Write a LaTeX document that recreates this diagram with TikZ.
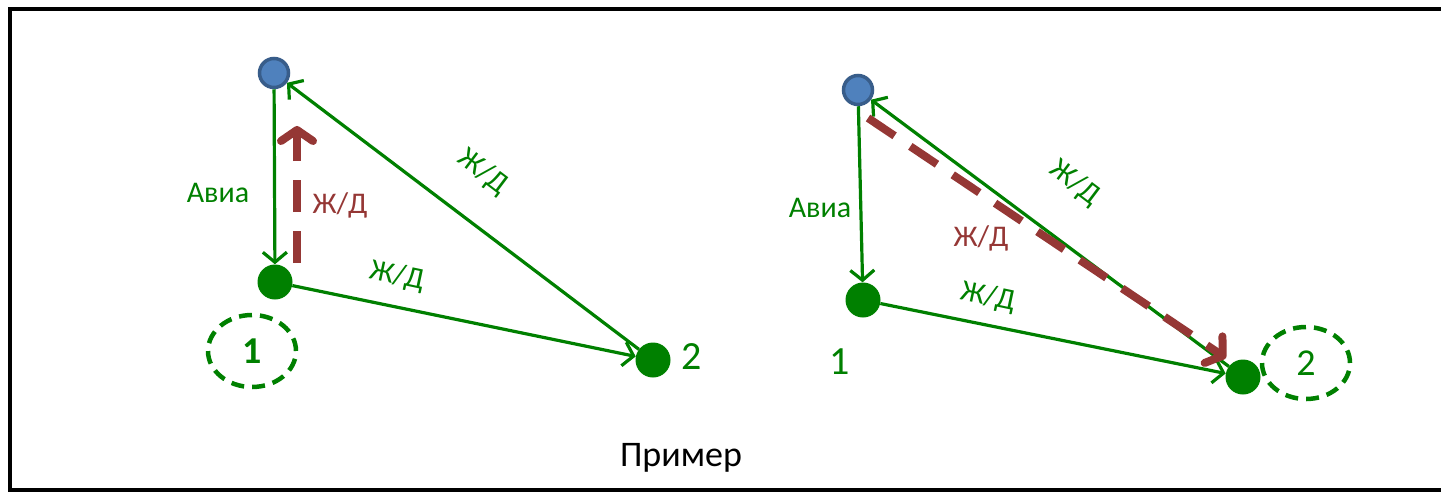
\documentclass[tikz,border=0pt]{standalone}
\usepackage{fontspec}
\setmainfont{Carlito}
\usetikzlibrary{arrows.meta,shapes.geometric}
\definecolor{gr}{RGB}{0,128,0}
\definecolor{dred}{RGB}{149,55,53}
\definecolor{bfill}{RGB}{79,129,189}
\definecolor{bdraw}{RGB}{56,93,138}
\begin{document}
\begin{tikzpicture}[x=1pt,y=-1pt,
  hub/.style={circle,fill=bfill,draw=bdraw,line width=3.5pt,minimum size=29pt,inner sep=0pt},
  stop/.style={circle,fill=gr,minimum size=35pt,inner sep=0pt},
  link/.style={draw=gr,line width=3.2pt,-{Straight Barb[length=10pt,width=24pt]}},
  route/.style={draw=dred,line width=8pt,dash pattern=on 32pt off 19pt,
     -{Straight Barb[length=11pt,width=32pt,line cap=round,line join=round]}},
  lbl/.style={text=gr,font=\fontsize{30}{32}\selectfont,inner sep=0pt},
  rlbl/.style={text=dred,font=\fontsize{30}{32}\selectfont,inner sep=0pt},
  num/.style={text=gr,font=\fontsize{40}{42}\selectfont,inner sep=0pt},
  ring/.style={ellipse,draw=gr,line width=4.5pt,dash pattern=on 13pt off 8pt,minimum width=88pt,minimum height=72pt,inner sep=0pt,text=gr,font=\fontsize{38}{40}\selectfont}]
\useasboundingbox (0,0) rectangle (1441,491);
\draw[line width=4pt] (1470,8.5) -- (10,8.5) -- (10,490) -- (1470,490);
% left diagram
\node[hub] (A1) at (274,73) {};
\node[stop] (B1) at (275,282) {};
\node[stop] (C1) at (653,360) {};
\draw[link] (A1) -- (B1);
\draw[link] (B1) -- (C1);
\draw[link] (C1) -- (A1);
\coordinate (r1s) at (297,263);
\coordinate (r1e) at (297,126);
\draw[route] (r1s) -- (r1e);
\node[ring,font=\bfseries\fontsize{38}{40}\selectfont] (o1) at (252,351) {1};
\node[num] (n2a) at (692,357) {2};
\node[lbl] (av1) at (218,193) {Авиа};
\node[rlbl] (rz1) at (340,205) {Ж/Д};
\node[lbl,rotate=-37] (dz1) at (483,172) {Ж/Д};
\node[lbl,rotate=-12] (lz1) at (397,276) {Ж/Д};
% right diagram
\node[hub] (A2) at (858,90) {};
\node[stop] (B2) at (863,300) {};
\node[stop] (C2) at (1243,377) {};
\draw[link] (A2) -- (B2);
\draw[link] (B2) -- (C2);
\draw[link] (C2) -- (A2);
\coordinate (r2s) at (868,118);
\coordinate (r2e) at (1226,358);
\draw[route] (r2s) -- (r2e);
\node[ring] (o2) at (1306,363) {2};
\node[num] (n1b) at (840,362) {1};
\node[lbl] (av2) at (820,208) {Авиа};
\node[rlbl] (rz2) at (981,238) {Ж/Д};
\node[lbl,rotate=-37] (dz2) at (1075,183) {Ж/Д};
\node[lbl,rotate=-12] (lz2) at (988,297) {Ж/Д};
\node[font=\fontsize{36}{38}\selectfont,inner sep=0pt] (cap) at (681,458) {Пример};
\end{tikzpicture}
\end{document}
